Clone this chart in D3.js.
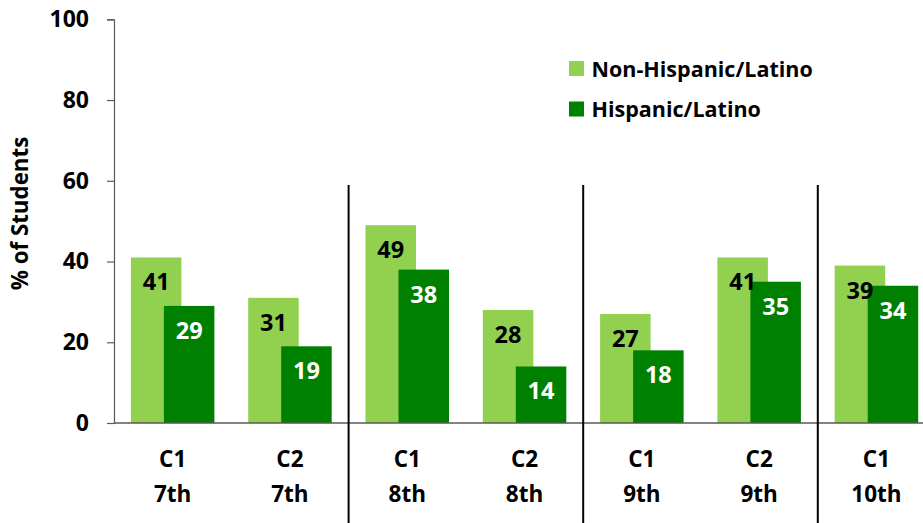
<!DOCTYPE html>
<html>
<head>
<meta charset="utf-8">
<script src="https://cdn.jsdelivr.net/npm/d3@7"></script>
<style>
  html, body { margin: 0; padding: 0; background: #fff; }
  svg { display: block; font-family: "Open Sans", Lato, sans-serif; font-weight: bold; }
</style>
</head>
<body>
<svg id="chart" width="923" height="523"></svg>
<script>
// Course / grade groups along the x axis
const categories = ["C1|7th", "C2|7th", "C1|8th", "C2|8th", "C1|9th", "C2|9th", "C1|10th"];
// Percent of students in each group
const nonHispanic = [41, 31, 49, 28, 27, 41, 39];
const hispanic = [29, 19, 38, 14, 18, 35, 34];
const seriesNames = ["Non-Hispanic/Latino", "Hispanic/Latino"];
const seriesColors = ["#92D050", "#008000"];
const yTicks = [0, 20, 40, 60, 80, 100];
// Grade boundaries get a divider line (after these category indices)
const dividersAfter = [1, 3, 5];

const FONT = "'Open Sans', Lato, sans-serif";
const svg = d3.select("#chart");

const x0 = 114, step = 117.3;
const x = d3.scaleBand()
  .domain(categories)
  .range([x0, x0 + step * categories.length])
  .padding(0);

// The two bars in a group overlap; position their centres around the band centre
const inner = d3.scalePoint().domain(seriesNames).range([-16.5, 16.5]);
const barW = 50.5;

const y = d3.scaleLinear().domain([0, 100]).range([423, 19.3]);

const series = [
  { name: seriesNames[0], color: seriesColors[0], values: nonHispanic, labelColor: "#000" },
  { name: seriesNames[1], color: seriesColors[1], values: hispanic, labelColor: "#fff" }
];

// Bars
series.forEach(s => {
  svg.append("g").selectAll("rect")
    .data(categories.map((c, i) => ({ c, v: s.values[i] })))
    .join("rect")
    .attr("x", d => x(d.c) + x.bandwidth() / 2 + inner(s.name) - barW / 2)
    .attr("y", d => y(d.v))
    .attr("width", barW)
    .attr("height", d => y(0) - y(d.v))
    .attr("fill", s.color);
});

// Value labels inside the top of each bar
series.forEach(s => {
  svg.append("g").selectAll("text")
    .data(categories.map((c, i) => ({ c, v: s.values[i] })))
    .join("text")
    .attr("x", d => x(d.c) + x.bandwidth() / 2 + inner(s.name))
    .attr("y", d => y(d.v) + 33)
    .attr("text-anchor", "middle")
    .attr("font-size", 23.5)
    .attr("fill", s.labelColor)
    .text(d => d.v);
});

// Y axis
const yAxis = svg.append("g")
  .attr("transform", `translate(${x0},0)`)
  .call(d3.axisLeft(y).tickValues(yTicks).tickSize(7).tickPadding(18));
yAxis.select(".domain").attr("stroke", "#595959").attr("stroke-width", 1.2);
yAxis.selectAll(".tick line").attr("stroke", "#595959").attr("stroke-width", 1.2);
yAxis.selectAll(".tick text")
  .attr("font-family", FONT)
  .attr("font-weight", "bold")
  .attr("font-size", 23)
  .attr("fill", "#000");

// X axis baseline
svg.append("line")
  .attr("x1", x0).attr("x2", 923)
  .attr("y1", y(0)).attr("y2", y(0))
  .attr("stroke", "#595959").attr("stroke-width", 1.3);

// Two-line category labels
const catLabels = svg.append("g").selectAll("text")
  .data(categories)
  .join("text")
  .attr("text-anchor", "middle")
  .attr("font-size", 22.5)
  .attr("fill", "#000");
catLabels.each(function (c) {
  const parts = c.split("|");
  const cx = x(c) + x.bandwidth() / 2;
  d3.select(this).append("tspan").attr("x", cx).attr("y", 466.5).text(parts[0]);
  d3.select(this).append("tspan").attr("x", cx).attr("y", 501.5).text(parts[1]);
});

// Grade dividers
svg.append("g").selectAll("line")
  .data(dividersAfter)
  .join("line")
  .attr("x1", i => x(categories[i]) + x.bandwidth())
  .attr("x2", i => x(categories[i]) + x.bandwidth())
  .attr("y1", 185).attr("y2", 523)
  .attr("stroke", "#000").attr("stroke-width", 2);

// Y axis title
svg.append("text")
  .attr("transform", "translate(28,213.5) rotate(-90)")
  .attr("text-anchor", "middle")
  .attr("font-size", 22.3)
  .attr("fill", "#000")
  .text("% of Students");

// Legend
const legend = svg.append("g").selectAll("g")
  .data(series)
  .join("g")
  .attr("transform", (d, i) => `translate(569,${61 + i * 40.5})`);
legend.append("rect")
  .attr("width", 15).attr("height", 15)
  .attr("fill", d => d.color);
legend.append("text")
  .attr("x", 22.5).attr("y", 15.5)
  .attr("font-size", 21.5)
  .attr("fill", "#000")
  .text(d => d.name);
</script>
</body>
</html>
